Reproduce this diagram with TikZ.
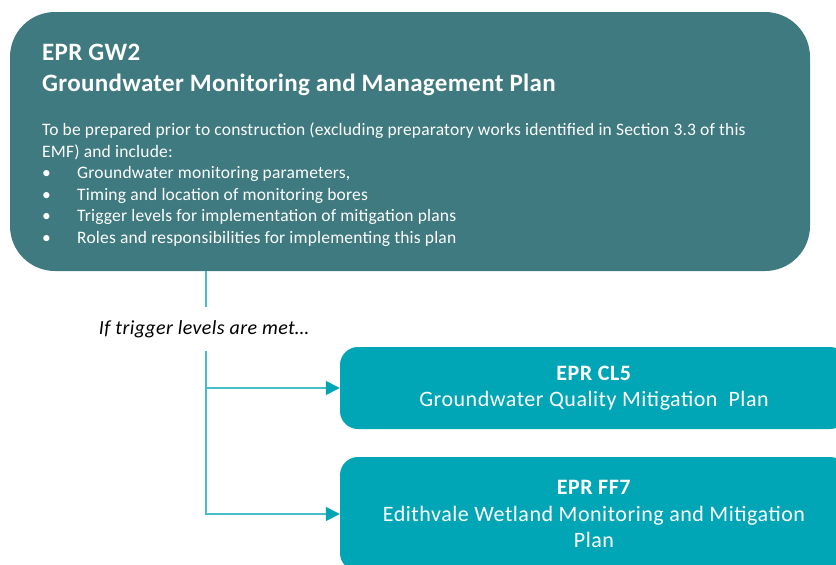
\documentclass[tikz,border=0pt]{standalone}
\usepackage{fontspec}
\setmainfont{Carlito}
\usetikzlibrary{arrows.meta,positioning}

\definecolor{darkteal}{HTML}{3E7A7F}
\definecolor{lightteal}{HTML}{00A6B6}
\definecolor{linkteal}{HTML}{45BECA}

% bullet with a fixed hanging indent
\newcommand{\planitem}{\makebox[35pt][l]{\textbullet}}

\begin{document}
\begin{tikzpicture}[x=1pt, y=-1pt, >={Triangle[length=14pt,width=14pt,color=lightteal]},
   bigbox/.style={rectangle, rounded corners=45pt, fill=darkteal, minimum width=800pt, minimum height=259pt},
   planbox/.style={rectangle, rounded corners=18pt, fill=lightteal, text=white, minimum width=508pt, align=center,
      font=\fontsize{22}{26.5}\selectfont\addfontfeature{LetterSpace=2.4}},
   link/.style={draw=linkteal, line width=1.5pt}]
   \useasboundingbox (0,0) rectangle (836,565);
   \clip (0,0) rectangle (836,565);
   \node (gw2) at (410,141.5) [bigbox] {};
   \node (gw2title) at (42,44) [anchor=north west, inner sep=0, text=white, align=left,
      font=\fontsize{25}{31}\selectfont\bfseries\addfontfeature{LetterSpace=1.3}] {EPR GW2\\
Groundwater Monitoring and Management Plan};
   \node (gw2body) at (42,123) [anchor=north west, inner sep=0, text=white, align=left,
      font=\fontsize{17.5}{21.5}\selectfont\addfontfeature{LetterSpace=1.1}] {To be prepared prior to construction (excluding preparatory works identified in Section 3.3 of this\\
EMF) and include:\\
\planitem Groundwater monitoring parameters,\\
\planitem Timing and location of monitoring bores\\
\planitem Trigger levels for implementation of mitigation plans\\
\planitem Roles and responsibilities for implementing this plan};
   \node (trig) at (204,329) [inner sep=0, minimum height=43pt,
      font=\fontsize{20}{22}\selectfont\itshape\addfontfeature{LetterSpace=2}] {If trigger levels are met\dots};
   \node (cl5) at (594,388) [planbox, minimum height=82pt] {\textbf{EPR CL5}\\
Groundwater Quality Mitigation~~Plan};
   \node (ff7) at (594,514) [planbox, minimum height=114pt] {\textbf{EPR FF7}\\
Edithvale Wetland Monitoring and Mitigation\\
Plan};
   \draw [link] (gw2.south -| 206,0) -- (trig.north -| 206,0);
   \draw [link, ->] (trig.south -| 206,0) |- (cl5.west);
   \draw [link, ->] (trig.south -| 206,0) |- (ff7.west);
\end{tikzpicture}
\end{document}
